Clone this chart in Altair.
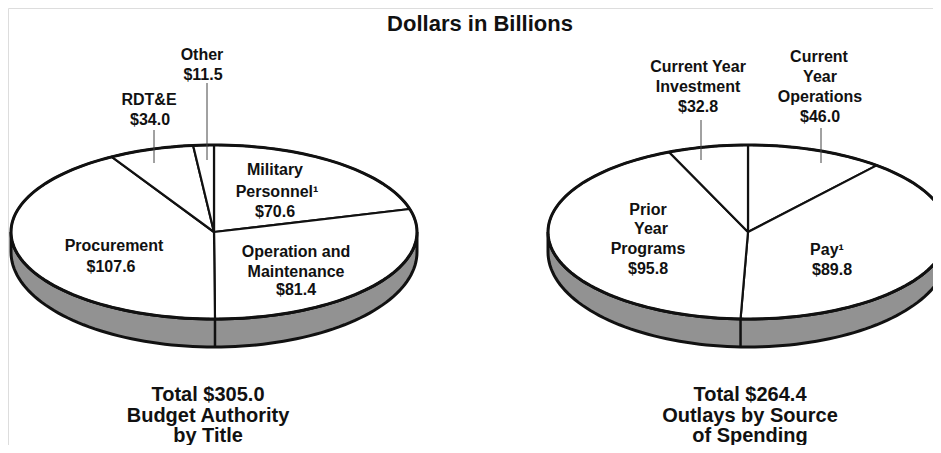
import altair as alt
import pandas as pd

# ---------------- data ----------------
left_labels = ["Military Personnel", "Operation and Maintenance", "Procurement", "RDT&E", "Other"]
left_values = [70.6, 81.4, 107.6, 34.0, 11.5]
right_labels = ["Current Year Operations", "Pay", "Prior Year Programs", "Current Year Investment"]
right_values = [46.0, 89.8, 95.8, 32.8]

title_text = "Dollars  in  Billions"
caption_left = ["Total $305.0", "Budget Authority", "by Title"]
caption_right = ["Total $264.4", "Outlays by Source", "of Spending"]

label_text = ["Other", "$11.5", "RDT&E", "$34.0",
              "Military", "Personnel\u00b9", "$70.6",
              "Procurement", "$107.6",
              "Operation and", "Maintenance", "$81.4",
              "Current  Year", "Investment", "$32.8",
              "Current", "Year", "Operations", "$46.0",
              "Prior", "Year", "Programs", "$95.8",
              "Pay\u00b9", "$89.8"]

# ---------------- layout (pixel positions of annotations) ----------------
label_x = [202, 203, 149, 150,
           275, 277, 275,
           114, 111,
           296, 296, 296,
           698, 698, 698,
           819, 820, 820, 820,
           648, 651, 648, 648,
           827, 832]
label_y = [60, 80, 105, 125,
           175, 197, 217,
           251, 272,
           257, 277, 295,
           72, 92, 112,
           62, 82, 102, 122,
           215, 234, 254, 274,
           255, 275]
leader_x = [207, 154, 701, 821]
leader_y1 = [83, 130, 120, 128]
leader_y2 = [160, 163, 160, 163]

CX = [214, 748]
RA = [203, 200]
CY = 232
RB = 87
D_SIDE = 20
D_FRONT = 8
N = 90
FONT = "Liberation Sans"

rows = []
for i, (l, v) in enumerate(zip(left_labels, left_values)):
    rows.append({"pie": 0, "idx": i, "label": l, "value": v})
for i, (l, v) in enumerate(zip(right_labels, right_values)):
    rows.append({"pie": 1, "idx": i, "label": l, "value": v})
slices_df = pd.DataFrame(rows)
pies_df = pd.DataFrame({"pie": [0, 1]})

cx_expr = f"datum.pie == 0 ? {CX[0]} : {CX[1]}"
a_expr = f"datum.pie == 0 ? {RA[0]} : {RA[1]}"

X = alt.X("x:Q", scale=alt.Scale(domain=[8, 933], nice=False, zero=False), axis=None)
Y = alt.Y("y:Q", scale=alt.Scale(domain=[8, 445], nice=False, zero=False, reverse=True), axis=None)

base = (
    alt.Chart(slices_df)
    .transform_joinaggregate(total="sum(value)", groupby=["pie"])
    .transform_window(cum="sum(value)", sort=[alt.SortField("idx")], groupby=["pie"], frame=[None, 0])
    .transform_calculate(
        a0="90 - 360 * (datum.cum - datum.value) / datum.total",
        a1="90 - 360 * datum.cum / datum.total",
        cx=cx_expr,
        A=a_expr,
    )
)

# rim (side of the disc)
rim = (
    alt.Chart(pies_df)
    .transform_calculate(cx=cx_expr, A=a_expr, steps=f"sequence(0, {2 * N + 2})")
    .transform_flatten(["steps"], as_=["k"])
    .transform_calculate(
        t=f"datum.k <= {N} ? PI + PI * datum.k / {N} : 2 * PI - PI * (datum.k - {N} - 1) / {N}",
    )
    .transform_calculate(
        x="datum.cx + datum.A * cos(datum.t)",
        y=f"datum.k <= {N} ? {CY} - {RB} * sin(datum.t) : {CY + D_SIDE} - {RB + D_FRONT} * sin(datum.t)",
    )
    .mark_line(interpolate="linear-closed", fill="#929292", stroke="#111111", strokeWidth=3, clip=True)
    .encode(x=X, y=Y, detail="pie:N", order="k:Q")
)

# slices of the top face
slices = (
    base.transform_calculate(steps=f"sequence(0, {N + 2})")
    .transform_flatten(["steps"], as_=["k"])
    .transform_calculate(th=f"(datum.a0 + (datum.a1 - datum.a0) * max(datum.k - 1, 0) / {N}) * PI / 180")
    .transform_calculate(
        r=f"datum.A * {RB} / sqrt(pow({RB} * cos(datum.th), 2) + pow(datum.A * sin(datum.th), 2))"
    )
    .transform_calculate(
        x="datum.k == 0 ? datum.cx : datum.cx + datum.r * cos(datum.th)",
        y=f"datum.k == 0 ? {CY} : {CY} - datum.r * sin(datum.th)",
    )
    .mark_line(interpolate="linear-closed", fill="white", stroke="#111111", strokeWidth=2.2,
               strokeJoin="round", clip=True)
    .encode(x=X, y=Y, detail="label:N", order="k:Q")
)

# divider on the rim under a slice boundary at the front
divider = (
    base.transform_calculate(th1="datum.a1 * PI / 180")
    .transform_filter("sin(datum.th1) < -0.01")
    .transform_calculate(
        r1=f"datum.A * {RB} / sqrt(pow({RB} * cos(datum.th1), 2) + pow(datum.A * sin(datum.th1), 2))"
    )
    .transform_calculate(
        x="datum.cx + datum.r1 * cos(datum.th1)",
        y=f"{CY} - datum.r1 * sin(datum.th1)",
    )
    .transform_calculate(
        y2=f"{CY + D_SIDE} + {RB + D_FRONT} * sqrt(max(0, 1 - pow((datum.x - datum.cx) / datum.A, 2)))"
    )
    .mark_rule(stroke="#111111", strokeWidth=2.5)
    .encode(x=X, y=Y, y2="y2:Q")
)

# outer outline of the top face
outline = (
    alt.Chart(pies_df)
    .transform_calculate(cx=cx_expr, A=a_expr, steps="sequence(0, 361, 2)")
    .transform_flatten(["steps"], as_=["t"])
    .transform_calculate(
        x="datum.cx + datum.A * cos(datum.t * PI / 180)",
        y=f"{CY} - {RB} * sin(datum.t * PI / 180)",
    )
    .mark_line(interpolate="linear-closed", stroke="#111111", strokeWidth=3, clip=True)
    .encode(x=X, y=Y, detail="pie:N", order="t:Q")
)

leaders_df = pd.DataFrame({"x": leader_x, "y": leader_y1, "y2": leader_y2})
leaders = alt.Chart(leaders_df).mark_rule(stroke="#444444", strokeWidth=1).encode(x=X, y=Y, y2="y2:Q")

labels_df = pd.DataFrame({"text": label_text, "x": label_x, "y": label_y})
labels = (
    alt.Chart(labels_df)
    .mark_text(font=FONT, fontSize=16, fontWeight="bold", color="#111111", baseline="alphabetic", align="center")
    .encode(x=X, y=Y, text="text:N")
)

cap_df = pd.DataFrame({
    "text": caption_left + caption_right,
    "x": [208, 208, 208, 750, 750, 750],
    "y": [401, 422, 442, 401, 422, 442],
})
captions = (
    alt.Chart(cap_df)
    .mark_text(font=FONT, fontSize=20, fontWeight="bold", color="#111111", baseline="alphabetic", align="center")
    .encode(x=X, y=Y, text="text:N")
)

title_df = pd.DataFrame({"text": [title_text], "x": [480], "y": [31]})
title = (
    alt.Chart(title_df)
    .mark_text(font=FONT, fontSize=22, fontWeight="bold", color="#111111", baseline="alphabetic", align="center")
    .encode(x=X, y=Y, text="text:N")
)

chart = (
    alt.layer(rim, slices, divider, outline, leaders, labels, captions, title)
    .properties(width=925, height=437, padding=0, autosize=alt.AutoSizeParams(type="none"))
    .configure_view(stroke=None)
    .configure(background="white")
)

chart.save("out.html", embed_options={"renderer": "svg", "actions": False})
